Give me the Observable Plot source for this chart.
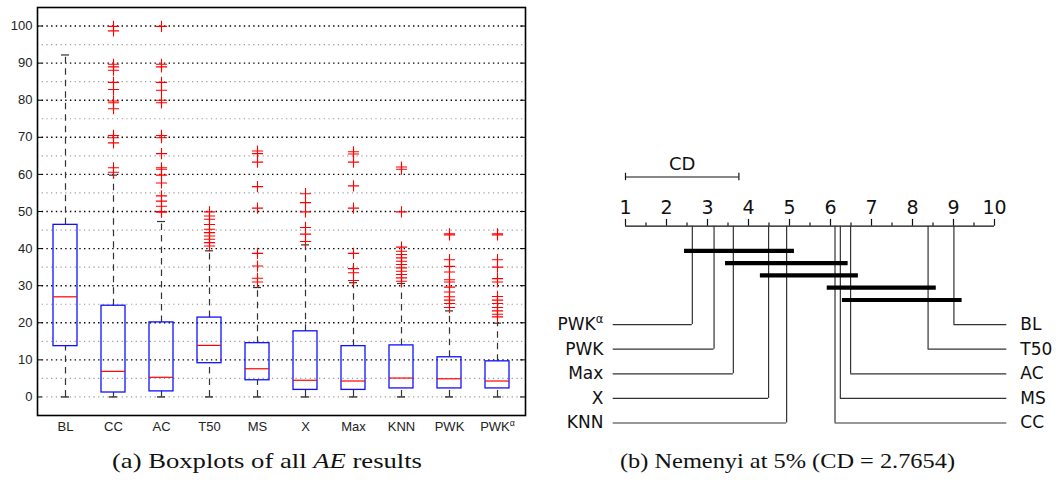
<!DOCTYPE html>
<html><head><meta charset="utf-8">
<script src="https://cdn.jsdelivr.net/npm/d3@7"></script>
<script src="https://cdn.jsdelivr.net/npm/@observablehq/plot@0.6"></script>
<style>
body{margin:0;background:#fff;}
#wrap{position:relative;width:1062px;height:489px;overflow:hidden;}
#a{position:absolute;left:0;top:0;}
#b{position:absolute;left:531px;top:0;}
.cap{position:absolute;top:449px;font-family:"Liberation Serif","Times New Roman",serif;font-size:22px;line-height:24px;color:#111;white-space:nowrap;transform-origin:0 50%;}
</style></head><body>
<div id="wrap"><div id="a"></div><div id="b"></div>
<div class="cap" id="capA" data-l="112" data-r="422">(a) Boxplots of all <i>AE</i> results</div>
<div class="cap" id="capB" data-l="620" data-r="955">(b) Nemenyi at 5% (CD = 2.7654)</div>
</div>
<script>
// ---------- (a) boxplot data ----------
const methods = ["BL","CC","AC","T50","MS","X","Max","KNN","PWK","PWKα"];
const whiskerLow  = [0,0,0,0,0,0,0,0,0,0];
const q1          = [13.7,1.2,1.5,9.1,4.5,1.9,1.9,2.3,2.3,2.3];
const median      = [27.0,6.9,5.3,13.9,7.6,4.5,4.3,5.1,4.9,4.3];
const q3          = [46.4,24.6,20.1,21.4,14.5,17.7,13.7,13.9,10.7,9.6];
const whiskerHigh = [92.2,59.8,47.3,39.4,29.5,41.0,30.8,30.6,23.2,19.9];
const outBL   = [];
const outCC   = [99.9,98.7,89.7,89.0,88.1,84.8,82.9,79.8,79.3,77.7,70.5,69.9,68.5,61.8,60.6];
const outAC   = [99.9,89.7,89.0,84.8,82.7,80.0,79.3,70.5,69.9,65.6,61.8,61.4,59.8,57.7,54.2,52.8,51.4,50.0,49.8];
const outT50  = [49.9,48.8,47.9,46.5,45.2,44.3,43.4,42.5,41.6,40.7];
const outMS   = [66.3,65.6,63.3,56.7,50.9,38.7,35.3,32.0,31.0];
const outX    = [54.8,52.4,49.9,45.7,43.9,41.9];
const outMax  = [66.1,65.5,63.3,56.9,50.9,38.7,34.6,33.5,31.4];
const outKNN  = [62.0,61.4,49.9,40.4,39.3,38.4,37.5,36.6,35.7,34.8,33.9,33.0,32.1,31.2];
const outPWK  = [44.0,43.7,37.0,35.2,33.7,31.6,31.0,29.6,28.3,27.0,26.1,25.2,24.1];
const outPWKa = [44.0,43.7,37.0,35.0,31.9,31.0,27.1,26.1,25.2,24.1,23.2,22.3,21.6];
const yMajor = [10,20,30,40,50,60,70,80,90,100];
const yMinor = [0,5,15,25,35,45,55,65,75,85,95];
const yTicks = [0,10,20,30,40,50,60,70,80,90,100];

// ---------- (b) Nemenyi data ----------
const leftNames  = ["PWKα","PWK","Max","X","KNN"];
const leftRanks  = [2.63,3.16,3.63,4.49,4.93];
const rightNames = ["BL","T50","AC","MS","CC"];
const rightRanks = [9.01,8.38,6.49,6.24,6.11];
const cliqueLo = [2.44,3.44,4.29,5.92,6.29];
const cliqueHi = [5.12,6.43,6.68,8.58,9.21];
const rankTicks = [1,2,3,4,5,6,7,8,9,10];
const rankMinor = [1.5,2.5,3.5,4.5,5.5,6.5,7.5,8.5,9.5];
const CD = 2.7654;

// ---------- build (a) ----------
const boxes = methods.map((m,i)=>({m, lo:whiskerLow[i], q1:q1[i], med:median[i], q3:q3[i], hi:whiskerHigh[i]}));
const outLists = [outBL,outCC,outAC,outT50,outMS,outX,outMax,outKNN,outPWK,outPWKa];
const outliers = outLists.flatMap((arr,i)=>arr.map(v=>({m:methods[i], v})));

const W1 = 531, ML = 37, MR = 6;
const innerW = W1 - ML - MR;
const sans = "'Liberation Sans', Arial, Helvetica, sans-serif";

const plotA = Plot.plot({
  width: W1, height: 440,
  marginLeft: ML, marginRight: MR, marginTop: 7, marginBottom: 25,
  style: {fontFamily: sans, fontSize: "13px", color: "#222", background: "transparent"},
  x: {domain: methods, padding: 0, label: null},
  y: {domain: [-5, 105], label: null},
  marks: [
    Plot.ruleY(yMinor, {stroke: "#9a9a9a", strokeWidth: 1.2, strokeDasharray: "1.2,3.5"}),
    Plot.ruleY(yMajor, {stroke: "#000", strokeWidth: 1.4, strokeDasharray: "1.4,3.3"}),
    Plot.ruleY(yTicks, {stroke: "#000", insetRight: innerW - 5}),
    Plot.ruleY(yTicks, {stroke: "#000", insetLeft: innerW - 5}),
    Plot.ruleX(boxes, {x: "m", y1: "q3", y2: "hi", stroke: "#333", strokeWidth: 1.2, strokeDasharray: "6.5,5"}),
    Plot.ruleX(boxes, {x: "m", y1: "lo", y2: "q1", stroke: "#333", strokeWidth: 1.2, strokeDasharray: "6.5,5"}),
    Plot.tickY(boxes, {x: "m", y: "hi", stroke: "#333", strokeWidth: 1.2, insetLeft: 20, insetRight: 20}),
    Plot.tickY(boxes, {x: "m", y: "lo", stroke: "#111", strokeWidth: 1.2, insetLeft: 20, insetRight: 20}),
    Plot.barY(boxes, {x: "m", y1: "q1", y2: "q3", fill: "none", stroke: "#1010ff", strokeWidth: 1.3, insetLeft: 12, insetRight: 12}),
    Plot.tickY(boxes, {x: "m", y: "med", stroke: "#ff0000", strokeWidth: 1.2, insetLeft: 12, insetRight: 12}),
    Plot.dot(outliers, {x: "m", y: "v", symbol: "plus", r: 3.7, stroke: "#ff0000", strokeWidth: 1.1}),
    Plot.frame({stroke: "#000", strokeWidth: 1.6}),
    Plot.axisY(yTicks, {tickSize: 0, tickPadding: 5, fontSize: 13}),
    Plot.axisX({tickSize: 0, tickPadding: 6, fontSize: 13})
  ]
});
document.getElementById("a").appendChild(plotA);

// ---------- build (b) ----------
const dv = "'DejaVu Sans', sans-serif";
const rowStep = 2;
const firstRow = 8;
const leftRows = leftNames.map((n,i)=>({n, r:leftRanks[i], row:firstRow + i*rowStep}));
const rightRows = rightNames.map((n,i)=>({n, r:rightRanks[i], row:firstRow + i*rowStep}));
const cliques = cliqueLo.map((lo,i)=>({lo, hi:cliqueHi[i], row:2+i}));
const lineStart = 0.70, lineEnd = 10.30, labelLeft = 0.46, labelRight = 10.63;

const plotB = Plot.plot({
  width: 531, height: 440,
  margin: 0,
  style: {fontFamily: dv, color: "#111", background: "transparent"},
  x: {domain: [1, 10], range: [94, 463], axis: null},
  y: {domain: [0, 1], range: [225.7, 238], axis: null},
  marks: [
    Plot.ruleY([0], {x1: 1, x2: 10, stroke: "#111", strokeWidth: 1.2}),
    Plot.ruleX(rankTicks, {y1: -0.55, y2: 0, stroke: "#111", strokeWidth: 1.2}),
    Plot.ruleX(rankMinor, {y1: -0.27, y2: 0, stroke: "#111", strokeWidth: 1.2}),
    Plot.text(rankTicks, {x: d=>d, y: -1.5, text: d=>String(d), fontSize: 19, fill: "#111"}),
    Plot.ruleY([-4], {x1: 1, x2: 1 + CD, stroke: "#111", strokeWidth: 1.2}),
    Plot.ruleX([1, 1 + CD], {y1: -4.3, y2: -3.7, stroke: "#111", strokeWidth: 1.2}),
    Plot.text(["CD"], {x: 1 + CD/2, y: -5.05, fontSize: 18, fill: "#111"}),
    Plot.ruleX(leftRows, {x: "r", y1: 0, y2: "row", stroke: "#333", strokeWidth: 1.2}),
    Plot.ruleX(rightRows, {x: "r", y1: 0, y2: "row", stroke: "#333", strokeWidth: 1.2}),
    Plot.ruleY(leftRows, {y: "row", x1: lineStart, x2: "r", stroke: "#333", strokeWidth: 1.2}),
    Plot.ruleY(rightRows, {y: "row", x1: "r", x2: lineEnd, stroke: "#333", strokeWidth: 1.2}),
    Plot.ruleY(cliques, {y: "row", x1: "lo", x2: "hi", stroke: "#000", strokeWidth: 4.2}),
    Plot.text(leftRows, {x: labelLeft, y: "row", text: "n", textAnchor: "end", fontSize: 17, fill: "#111"}),
    Plot.text(rightRows, {x: labelRight, y: "row", text: "n", textAnchor: "start", fontSize: 17, fill: "#111"})
  ]
});
document.getElementById("b").appendChild(plotB);

// superscript alpha in PWKα labels
document.querySelectorAll("svg text").forEach(t => {
  if (t.textContent === "PWKα") {
    t.textContent = "PWK";
    const ns = "http://www.w3.org/2000/svg";
    const sp = document.createElementNS(ns, "tspan");
    sp.setAttribute("baseline-shift", "super");
    sp.setAttribute("font-size", "68%");
    sp.textContent = "α";
    t.appendChild(sp);
  }
});

// fit captions to their horizontal extent
document.querySelectorAll(".cap").forEach(c => {
  const l = +c.dataset.l, r = +c.dataset.r;
  const w = c.getBoundingClientRect().width;
  c.style.left = l + "px";
  c.style.transform = `scaleX(${(r - l) / w})`;
});
</script>
</body></html>
